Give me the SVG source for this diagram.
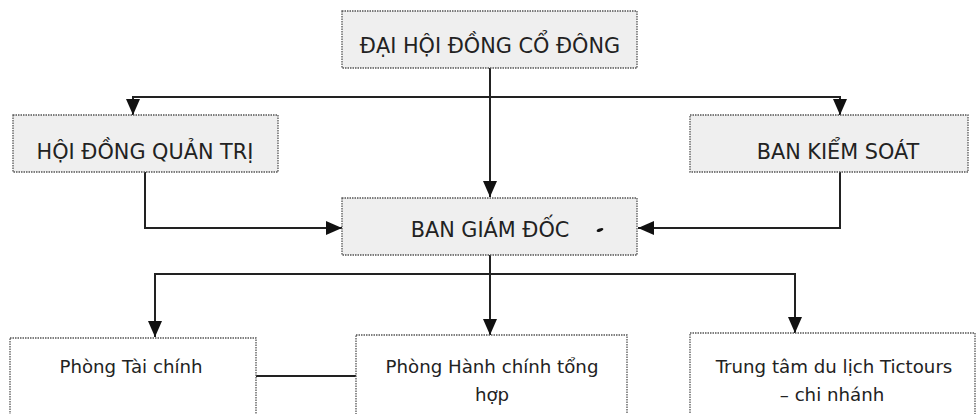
<svg xmlns="http://www.w3.org/2000/svg" width="979" height="414" viewBox="0 0 979 414">
<style>
.box{stroke:#555;stroke-width:1.3;stroke-dasharray:1.5 1}
.grey{fill:#efefef}
.white{fill:#fff}
.t{font-family:"DejaVu Sans",Verdana,sans-serif;fill:#222;text-anchor:middle}
.big{font-size:20.8px}
.small{font-size:18.2px}
.c{fill:none;stroke:#222;stroke-width:2}
</style>
<defs>
<marker id="ah" markerUnits="userSpaceOnUse" markerWidth="16" markerHeight="14" viewBox="0 0 16 14" refX="16" refY="7" orient="auto">
<path d="M0,0 L16,7 L0,14 Z" fill="#111"/>
</marker>
</defs>
<rect width="979" height="414" fill="#fff"/>
<g id="connectors">
<path class="c" d="M490,68 V197" marker-end="url(#ah)"/>
<path class="c" d="M490,97 H133 V115" marker-end="url(#ah)"/>
<path class="c" d="M490,97 H840 V115" marker-end="url(#ah)"/>
<path class="c" d="M145,172 V228 H342" marker-end="url(#ah)"/>
<path class="c" d="M840,172 V228 H638" marker-end="url(#ah)"/>
<path class="c" d="M490,255 V335" marker-end="url(#ah)"/>
<path class="c" d="M490,274 H155 V337" marker-end="url(#ah)"/>
<path class="c" d="M490,274 H795 V333" marker-end="url(#ah)"/>
<path class="c" d="M256,376 H356"/>
</g>
<g id="dhdcd">
<rect class="box grey" x="342" y="11" width="295" height="57"/>
<text class="t big" x="490" y="53">ĐẠI HỘI ĐỒNG CỔ ĐÔNG</text>
</g>
<g id="hdqt">
<rect class="box grey" x="13" y="115" width="265" height="57"/>
<text class="t big" x="145" y="159">HỘI ĐỒNG QUẢN TRỊ</text>
</g>
<g id="bks">
<rect class="box grey" x="690" y="115" width="278" height="57"/>
<text class="t big" x="838" y="159">BAN KIỂM SOÁT</text>
</g>
<g id="bgd">
<rect class="box grey" x="342" y="198" width="295" height="57"/>
<text class="t big" x="490" y="237">BAN GIÁM ĐỐC</text>
<ellipse cx="600" cy="230" rx="3.5" ry="1.5" transform="rotate(-20 600 230)" fill="#111"/>
</g>
<g id="ptc">
<rect class="box white" x="10" y="338" width="246" height="90"/>
<text class="t small" x="131" y="373">Phòng Tài chính</text>
</g>
<g id="phc">
<rect class="box white" x="356" y="335" width="271" height="90"/>
<text class="t small" x="492" y="373">Phòng Hành chính tổng</text>
<text class="t small" x="492" y="401">hợp</text>
</g>
<g id="ttdl">
<rect class="box white" x="690" y="333" width="285" height="90"/>
<text class="t small" x="834" y="373">Trung tâm du lịch Tictours</text>
<text class="t small" x="832" y="401">– chi nhánh</text>
</g>
</svg>
